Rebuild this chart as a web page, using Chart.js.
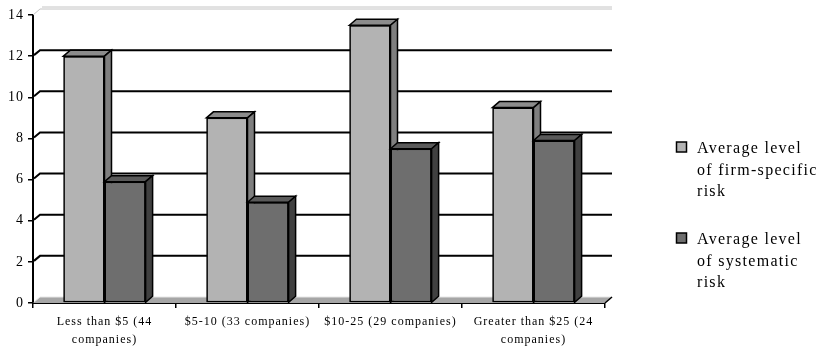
<!DOCTYPE html>
<html>
<head>
<meta charset="utf-8">
<script src="https://cdn.jsdelivr.net/npm/chart.js@4/dist/chart.umd.min.js"></script>
<style>
  html, body { margin: 0; padding: 0; background: #ffffff; }
  #wrap { width: 819px; height: 348px; }
</style>
</head>
<body>
<div id="wrap"><canvas id="c" width="819" height="348"></canvas></div>
<script>
// Share-price groups (multi-line where the label wraps)
const categories = [
  ["Less than $5 (44", "companies)"],
  "$5-10 (33 companies)",
  "$10-25 (29 companies)",
  ["Greater than $25 (24", "companies)"]
];
const firmSpecificRisk = [12, 9, 13.5, 9.5];
const systematicRisk = [5.9, 4.9, 7.5, 7.9];
const seriesNames = [
  ["Average level", "of firm-specific", "risk"],
  ["Average level", "of systematic", "risk"]
];
const yTicks = [0, 2, 4, 6, 8, 10, 12, 14];

// Face shading for the extruded bars
const shades = [
  { front: "#b3b3b3", top: "#8c8c8c", side: "#7f7f7f" },
  { front: "#6e6e6e", top: "#5a5a5a", side: "#404040" }
];
const DEPTH_X = 7, DEPTH_Y = -6;
const SERIF = "'Liberation Serif', 'Times New Roman', serif";

function setSpacing(chart) { chart.ctx.letterSpacing = "1px"; }

const spacingPlugin = {
  id: "spacing",
  beforeUpdate: setSpacing,
  beforeLayout: setSpacing,
  beforeDraw: setSpacing
};

// Back wall grid, floor and connectors drawn behind the bars,
// then the bars redrawn left to right with their top and side faces
const wallsPlugin = {
  id: "walls",
  beforeDatasetsDraw(chart) {
    const ctx = chart.ctx;
    const a = chart.chartArea;
    const ys = chart.scales.y;
    const L = a.left, R = a.right, B = ys.getPixelForValue(0);
    ctx.save();
    // floor
    ctx.beginPath();
    ctx.moveTo(L, B);
    ctx.lineTo(L + DEPTH_X, B + DEPTH_Y);
    ctx.lineTo(R + DEPTH_X, B + DEPTH_Y);
    ctx.lineTo(R, B);
    ctx.closePath();
    ctx.fillStyle = "#a6a6a6";
    ctx.fill();
    ctx.lineWidth = 1;
    ctx.strokeStyle = "#e6e6e6";
    ctx.beginPath();
    ctx.moveTo(L + 1, B - 1);
    ctx.lineTo(L + DEPTH_X, B + DEPTH_Y);
    ctx.lineTo(R + DEPTH_X, B + DEPTH_Y);
    ctx.stroke();
    ctx.strokeStyle = "#000";
    ctx.lineWidth = 1.5;
    ctx.beginPath();
    ctx.moveTo(R, B);
    ctx.lineTo(R + DEPTH_X, B + DEPTH_Y);
    ctx.stroke();

    // wall gridlines
    yTicks.forEach(v => {
      if (v === 0) return;
      const y = ys.getPixelForValue(v);
      if (v === yTicks[yTicks.length - 1]) {
        ctx.strokeStyle = "#c4c4c4";
        ctx.lineWidth = 1;
        ctx.beginPath();
        ctx.moveTo(L, y);
        ctx.lineTo(L + DEPTH_X, y + DEPTH_Y);
        ctx.lineTo(R + DEPTH_X, y + DEPTH_Y);
        ctx.moveTo(L + DEPTH_X + 2, y + DEPTH_Y - 2);
        ctx.lineTo(R + DEPTH_X, y + DEPTH_Y - 2);
        ctx.stroke();
      } else {
        ctx.strokeStyle = "#000";
        ctx.lineWidth = 2;
        ctx.beginPath();
        ctx.moveTo(L + 1, y - 1);
        ctx.lineTo(L + DEPTH_X, y + DEPTH_Y);
        ctx.lineTo(R + DEPTH_X, y + DEPTH_Y);
        ctx.stroke();
      }
    });
    ctx.restore();
  },
  afterDatasetsDraw(chart) {
    const ctx = chart.ctx;
    chart.data.datasets.forEach((ds, i) => {
      const meta = chart.getDatasetMeta(i);
      const s = shades[i];
      meta.data.forEach(bar => {
        bar.draw(ctx, chart.chartArea);
        const p = bar.getProps(["x", "y", "base", "width"], true);
        const l = p.x - p.width / 2, r = p.x + p.width / 2;
        const t = p.y, b = p.base;
        ctx.save();
        ctx.lineWidth = 1.5;
        ctx.strokeStyle = "#000";
        // top face
        ctx.beginPath();
        ctx.moveTo(l, t);
        ctx.lineTo(l + DEPTH_X, t + DEPTH_Y);
        ctx.lineTo(r + DEPTH_X, t + DEPTH_Y);
        ctx.lineTo(r, t);
        ctx.closePath();
        ctx.fillStyle = s.top;
        ctx.fill();
        ctx.stroke();
        // side face
        ctx.beginPath();
        ctx.moveTo(r, t);
        ctx.lineTo(r + DEPTH_X, t + DEPTH_Y);
        ctx.lineTo(r + DEPTH_X, b + DEPTH_Y);
        ctx.lineTo(r, b);
        ctx.closePath();
        ctx.fillStyle = s.side;
        ctx.fill();
        ctx.stroke();
        ctx.restore();
      });
    });
  }
};

// Legend on the right with wrapped series names
const legendPlugin = {
  id: "sideLegend",
  afterDraw(chart) {
    const ctx = chart.ctx;
    ctx.save();
    ctx.letterSpacing = "1.3px";
    ctx.font = "16px " + SERIF;
    ctx.textBaseline = "alphabetic";
    ctx.textAlign = "left";
    const startY = [153, 244];
    const lineH = 21.5;
    chart.data.datasets.forEach((ds, i) => {
      const y0 = startY[i];
      ctx.fillStyle = ds.backgroundColor;
      ctx.fillRect(676.5, y0 - 11, 10, 10);
      ctx.strokeStyle = "#000";
      ctx.lineWidth = 1.5;
      ctx.strokeRect(676.5, y0 - 11, 10, 10);
      ctx.fillStyle = "#000";
      seriesNames[i].forEach((line, k) => {
        ctx.fillText(line, 697, y0 + k * lineH);
      });
    });
    ctx.restore();
  }
};

new Chart(document.getElementById("c"), {
  type: "bar",
  data: {
    labels: categories,
    datasets: [
      {
        label: seriesNames[0].join(" "),
        data: firmSpecificRisk,
        backgroundColor: shades[0].front,
        borderColor: "#000",
        borderWidth: 1.5,
        borderSkipped: false
      },
      {
        label: seriesNames[1].join(" "),
        data: systematicRisk,
        backgroundColor: shades[1].front,
        borderColor: "#000",
        borderWidth: 1.5,
        borderSkipped: false
      }
    ]
  },
  options: {
    responsive: false,
    animation: false,
    devicePixelRatio: 1,
    layout: { padding: { top: 15, right: 214, left: 0, bottom: 0 } },
    datasets: { bar: { categoryPercentage: 0.575, barPercentage: 1 } },
    plugins: { legend: { display: false }, tooltip: { enabled: false } },
    scales: {
      x: {
        grid: { drawOnChartArea: false, drawTicks: true, tickLength: 5, color: "#000", lineWidth: 1.5, offset: true },
        border: { color: "#000", width: 2 },
        ticks: {
          color: "#000",
          maxRotation: 0,
          autoSkip: false,
          padding: 5,
          font: { family: SERIF, size: 12, lineHeight: 1.5 }
        },
        afterFit(scale) { scale.height = 45; }
      },
      y: {
        min: 0,
        max: 14,
        grid: { drawOnChartArea: false, drawTicks: true, tickLength: 5, color: "#000", lineWidth: 1.5 },
        border: { color: "#000", width: 2 },
        ticks: {
          stepSize: 2,
          color: "#000",
          padding: 4,
          font: { family: SERIF, size: 14 }
        },
        afterBuildTicks(scale) { scale.ticks = yTicks.map(v => ({ value: v })); },
        afterFit(scale) { scale.width = 33; }
      }
    }
  },
  plugins: [spacingPlugin, wallsPlugin, legendPlugin]
});
</script>
</body>
</html>
